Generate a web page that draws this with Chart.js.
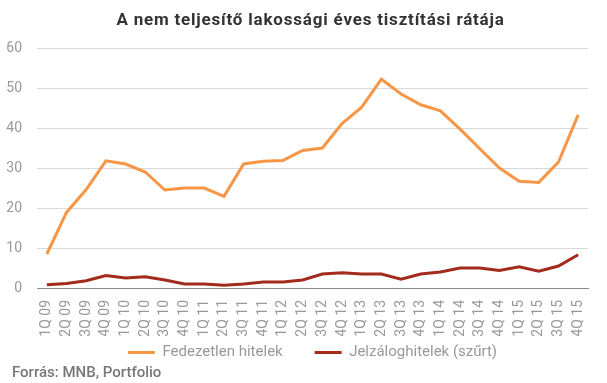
<!DOCTYPE html>
<html>
<head>
<meta charset="utf-8">
<script src="https://cdn.jsdelivr.net/npm/chart.js@4.4.0/dist/chart.umd.min.js"></script>
<style>
html,body{margin:0;padding:0;background:#fff;}
#wrap{width:607px;height:383px;}
</style>
</head>
<body>
<div id="wrap"><canvas id="c" width="607" height="383"></canvas></div>
<script>
const categories = ["1Q 09","2Q 09","3Q 09","4Q 09","1Q 10","2Q 10","3Q 10","4Q 10","1Q 11","2Q 11","3Q 11","4Q 11","1Q 12","2Q 12","3Q 12","4Q 12","1Q 13","2Q 13","3Q 13","4Q 13","1Q 14","2Q 14","3Q 14","4Q 14","1Q 15","2Q 15","3Q 15","4Q 15"];
const fedezetlen = [8.5,18.9,24.6,31.8,31.0,29.0,24.5,25.0,25.0,22.9,31.0,31.7,31.9,34.4,35.0,41.1,45.2,52.2,48.5,45.8,44.3,39.7,34.8,30.0,26.7,26.4,31.5,43.3];
const jelzalog = [0.8,1.1,1.8,3.1,2.5,2.8,2.0,1.0,1.0,0.7,1.0,1.5,1.5,2.0,3.5,3.8,3.5,3.5,2.2,3.5,4.0,5.0,5.0,4.4,5.3,4.2,5.5,8.3];
const yTicks = [0,10,20,30,40,50,60];
const titleText = 'A nem teljesítő lakossági éves tisztítási rátája';
const sourceText = 'Forrás: MNB, Portfolio';

const tweaks = {
  id: 'tweaks',
  afterLayout(chart) {
    chart.boxes.forEach(b => {
      if (!b.options) return;
      if (b.options.text === sourceText) { b.left += 12; b.right += 12; }
      if (b.options.text === titleText) {
        b.left += 8; b.right += 8;
        if (!b._wrapped) {
          const orig = b.draw;
          b.draw = function() {
            const ctx = this.ctx;
            const prev = ctx.letterSpacing;
            ctx.letterSpacing = '0.8px';
            orig.apply(this, arguments);
            ctx.letterSpacing = prev || '0px';
          };
          b._wrapped = true;
        }
      }
    });
  }
};

new Chart(document.getElementById('c'), {
  type: 'line',
  data: {
    labels: categories,
    datasets: [
      {label: 'Fedezetlen hitelek', data: fedezetlen, borderColor: '#f79646', backgroundColor: '#f79646', borderWidth: 3, pointRadius: 0, tension: 0},
      {label: 'Jelzáloghitelek (szűrt)', data: jelzalog, borderColor: '#a22b1d', backgroundColor: '#a22b1d', borderWidth: 3, pointRadius: 0, tension: 0}
    ]
  },
  plugins: [tweaks],
  options: {
    responsive: false,
    animation: false,
    layout: {padding: {left: 0, right: 2, top: 0, bottom: 0}},
    plugins: {
      title: {display: true, text: titleText, color: '#333', font: {family: 'Roboto', size: 17, weight: 'bold', lineHeight: 1.2}, padding: {top: 11, bottom: 16.6}},
      subtitle: {display: true, position: 'bottom', align: 'start', text: sourceText, color: '#777', font: {family: 'Roboto', size: 15, weight: '500', lineHeight: 1}, padding: {top: -4.5, bottom: 2.5}},
      legend: {
        position: 'bottom', fullSize: false,
        labels: {
          boxWidth: 27, boxHeight: 3, color: '#999', font: {family: 'Roboto', size: 15}, padding: 9,
          generateLabels: (chart) => {
            const items = Chart.defaults.plugins.legend.labels.generateLabels(chart);
            items.forEach((it, i) => { it.lineWidth = 0; if (i === 0) it.text = it.text + '\u2003\u2002'; });
            return items;
          }
        }
      },
      tooltip: {enabled: false}
    },
    scales: {
      x: {
        offset: true,
        afterFit: (s) => { s.height = 48; },
        grid: {display: false, drawTicks: false},
        border: {display: true, color: '#8c8c8c', width: 1},
        ticks: {autoSkip: false, minRotation: 90, maxRotation: 90, color: '#999', font: {family: 'Roboto', size: 14}, padding: 12}
      },
      y: {
        min: 0, max: 60,
        afterBuildTicks: (s) => { s.ticks = yTicks.map(v => ({value: v})); },
        afterFit: (s) => { s.width = 37; },
        grid: {color: '#d9d9d9', drawTicks: false},
        border: {display: false},
        ticks: {color: '#999', font: {family: 'Roboto', size: 14}, padding: 15}
      }
    }
  }
});
</script>
</body>
</html>
